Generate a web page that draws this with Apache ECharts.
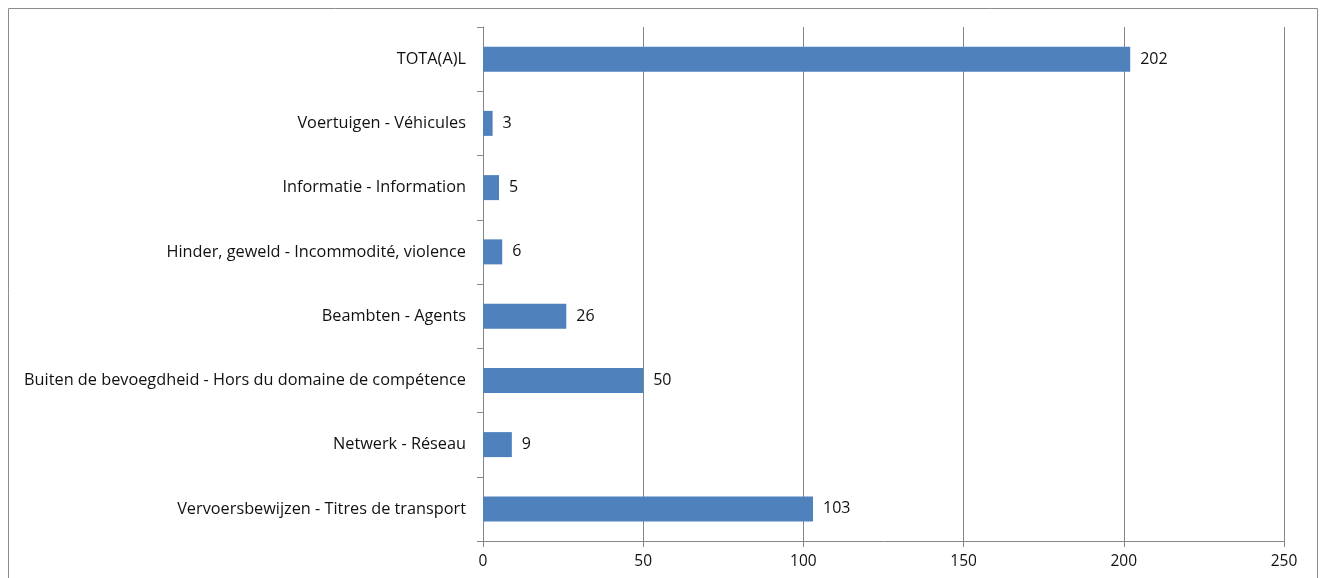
<!DOCTYPE html>
<html>
<head>
<meta charset="utf-8">
<script src="https://cdn.jsdelivr.net/npm/echarts@6/dist/echarts.min.js"></script>
<style>
  html, body { margin: 0; padding: 0; background: #fff; }
  #chart { width: 1325px; height: 578px; }
</style>
</head>
<body>
<div id="chart"></div>
<script>
// Complaint categories, listed top to bottom
const categories = [
  'TOTA(A)L',
  'Voertuigen - Véhicules',
  'Informatie - Information',
  'Hinder, geweld - Incommodité, violence',
  'Beambten - Agents',
  'Buiten de bevoegdheid - Hors du domaine de compétence',
  'Netwerk - Réseau',
  'Vervoersbewijzen - Titres de transport'
];
const counts = [202, 3, 5, 6, 26, 50, 9, 103];
const xTicks = [0, 50, 100, 150, 200, 250];

const axisGray = '#868686';
const textColor = '#111111';
const font = 'Open Sans';

const chart = echarts.init(document.getElementById('chart'), null, { renderer: 'canvas' });
chart.setOption({
  animation: false,
  backgroundColor: '#ffffff',
  graphic: [{
    type: 'rect',
    shape: { x: 8.5, y: 8.5, width: 1309, height: 600 },
    style: { fill: 'none', stroke: '#8c8c8c', lineWidth: 1 },
    silent: true
  }],
  grid: { left: 483, right: 41, top: 27, bottom: 37, containLabel: false },
  xAxis: {
    type: 'value',
    min: xTicks[0],
    max: xTicks[xTicks.length - 1],
    interval: 50,
    axisLine: { show: true, lineStyle: { color: axisGray, width: 1 } },
    axisTick: { show: true, length: 6, lineStyle: { color: axisGray } },
    splitLine: { show: true, lineStyle: { color: axisGray, width: 1 } },
    axisLabel: { color: textColor, fontFamily: font, fontSize: 15.5, margin: 13 }
  },
  yAxis: {
    type: 'category',
    data: categories,
    inverse: true,
    axisLine: { show: true, lineStyle: { color: axisGray, width: 1 } },
    axisTick: { show: true, length: 6, lineStyle: { color: axisGray } },
    axisLabel: { color: textColor, fontFamily: font, fontSize: 16.3, margin: 17 }
  },
  series: [{
    type: 'bar',
    data: counts,
    barWidth: 25,
    itemStyle: { color: '#4F81BD' },
    label: {
      show: true,
      position: 'right',
      distance: 10,
      color: textColor,
      fontFamily: font,
      fontSize: 16
    }
  }]
});
</script>
</body>
</html>
